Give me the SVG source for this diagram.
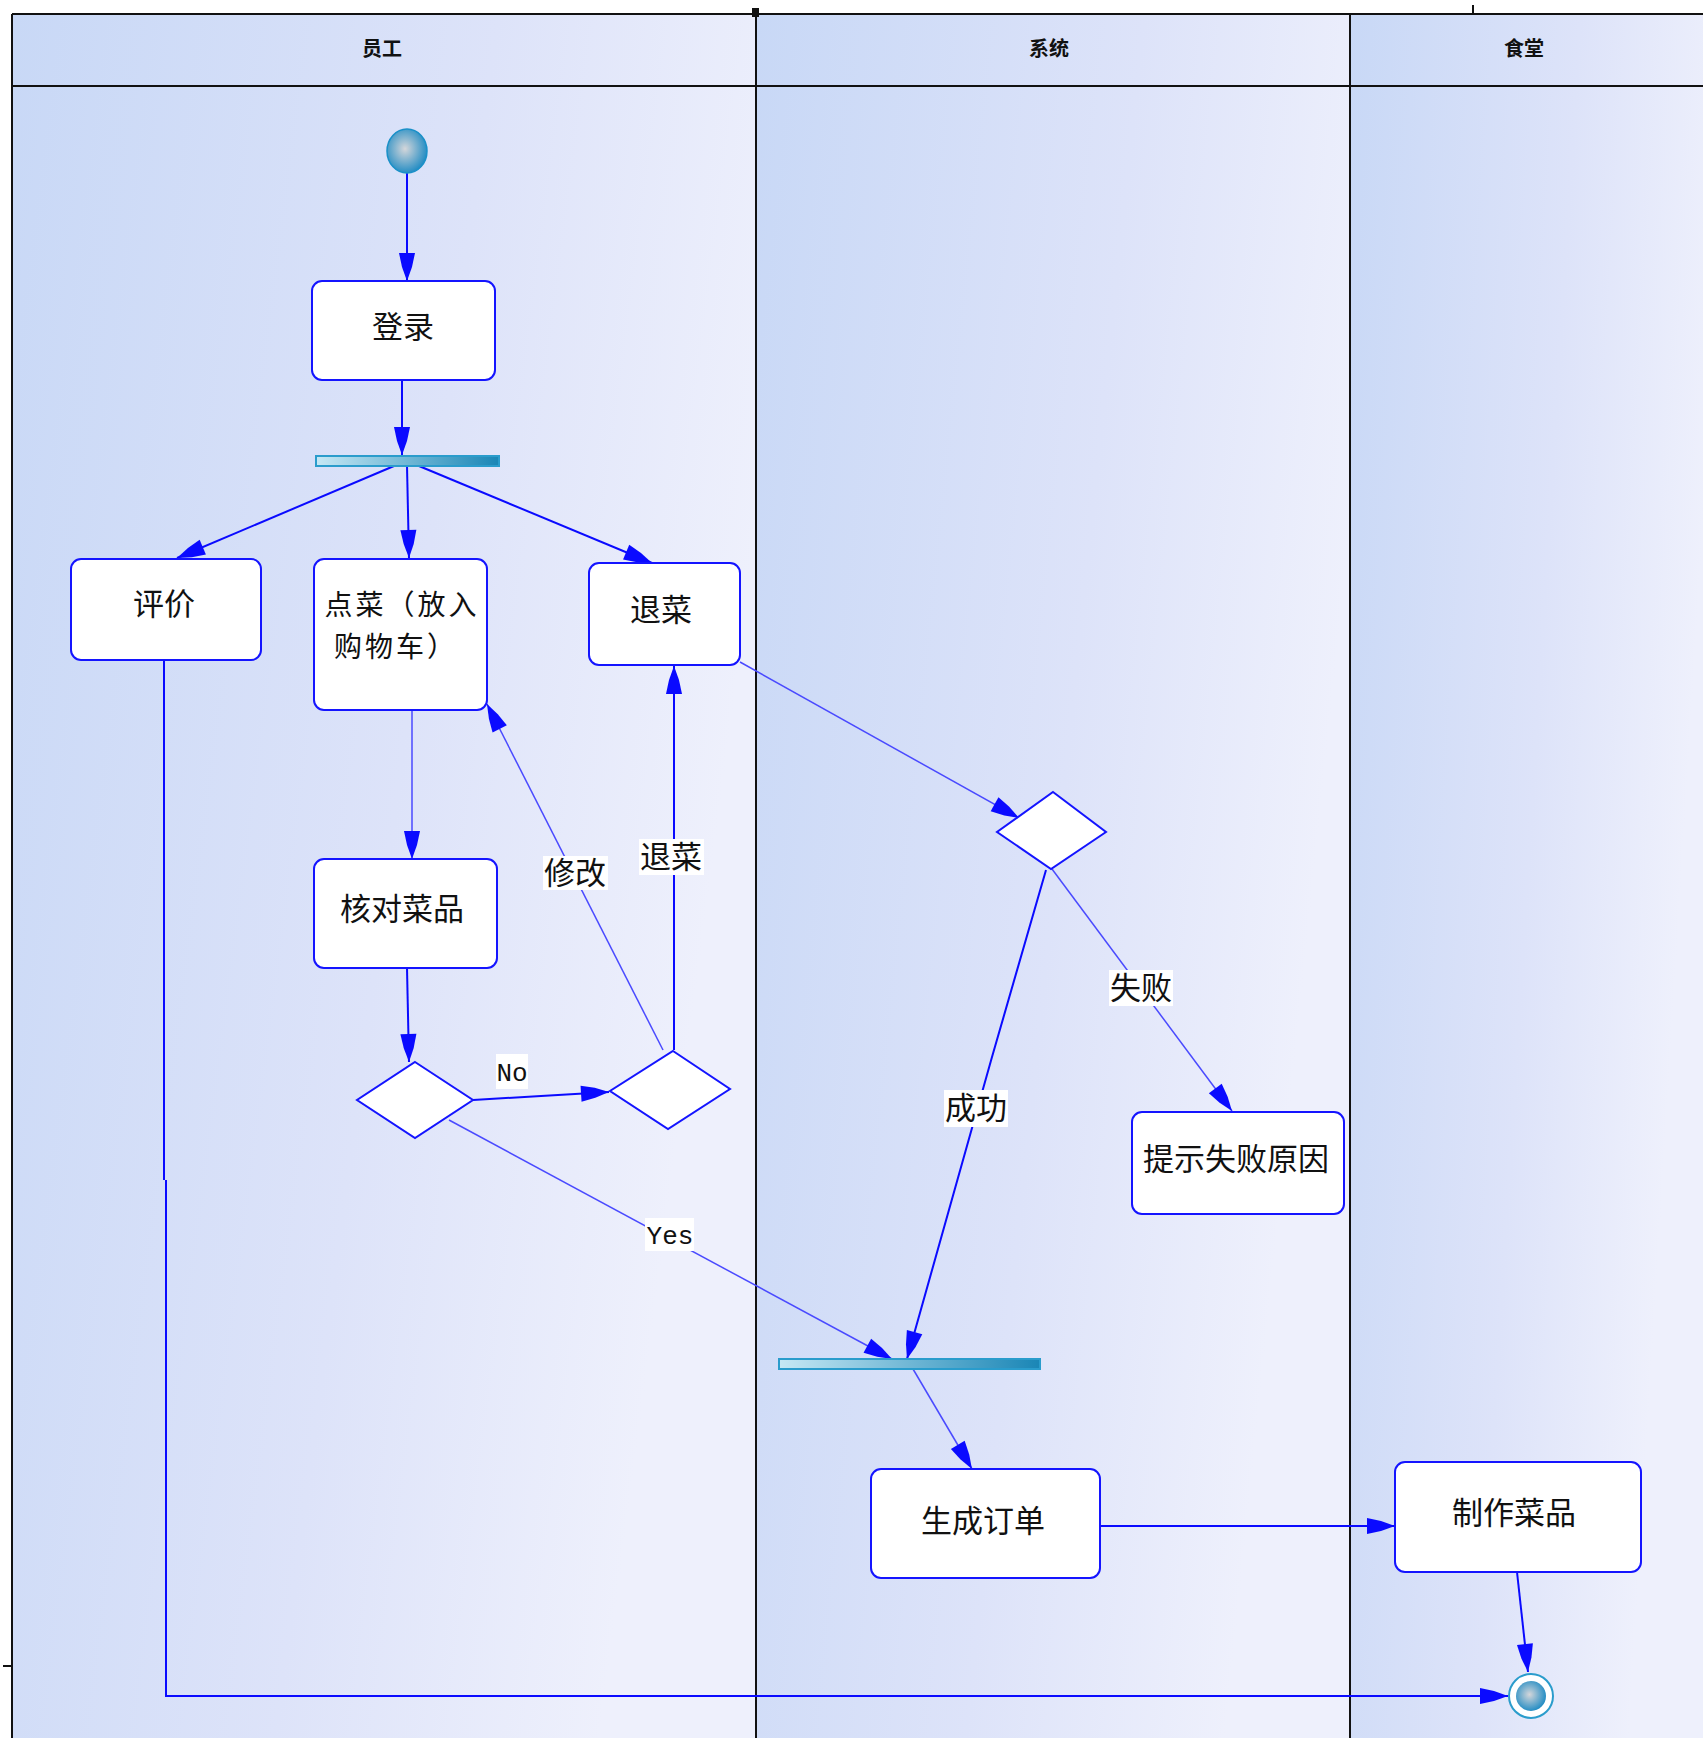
<svg xmlns="http://www.w3.org/2000/svg" width="1703" height="1738" viewBox="0 0 1703 1738">
<defs>
<linearGradient id="lane" x1="0" y1="0" x2="1" y2="0.3">
<stop offset="0" stop-color="#c8d8f6"/>
<stop offset="0.6" stop-color="#dde3f9"/>
<stop offset="1" stop-color="#eef0fc"/>
</linearGradient>
<linearGradient id="bar" x1="0" y1="0" x2="1" y2="0">
<stop offset="0" stop-color="#c6e8f4"/>
<stop offset="1" stop-color="#1a86b6"/>
</linearGradient>
<radialGradient id="ball" cx="0.45" cy="0.45" r="0.6">
<stop offset="0" stop-color="#d4d6da"/>
<stop offset="1" stop-color="#1687c2"/>
</radialGradient>
<marker id="ah" viewBox="-30 -10 32 20" refX="0" refY="0" markerWidth="32" markerHeight="20" markerUnits="userSpaceOnUse" orient="auto">
<path d="M0,0 L-14,-5 L-28,-8 L-28,8 L-14,5 Z" fill="#0a0aff"/>
</marker>
<style>
.box{fill:#fff;stroke:#1414ff;stroke-width:2}
.dia{fill:#fff;stroke:#1414ff;stroke-width:2}
.bar{fill:url(#bar);stroke:#2a9ccc;stroke-width:2}
.c{fill:none;stroke:#0a0aff;stroke-width:2;marker-end:url(#ah)}
.t{fill:none;stroke:#4a4aff;stroke-width:1.5;marker-end:url(#ah)}
.lbl{font-family:"Noto Sans CJK SC","Noto Sans",sans-serif;font-size:31px;fill:#111;text-anchor:middle}
.lbl2{font-family:"Noto Sans CJK SC","Noto Sans",sans-serif;font-size:28px;letter-spacing:3px;fill:#111;text-anchor:middle}
.hdr{font-family:"Noto Sans CJK SC","Noto Sans",sans-serif;font-size:20px;font-weight:bold;fill:#111;text-anchor:middle}
.en{font-family:"Liberation Mono",monospace;font-size:26px;fill:#111;text-anchor:middle}
.lane{fill:url(#lane)}
.ln{stroke:#111;stroke-width:2;fill:none}
</style>
</defs>
<rect width="1703" height="1738" fill="#ffffff"/>
<g id="swimlanes">
<rect class="lane" x="12" y="14" width="744" height="1724"/>
<rect class="lane" x="756" y="14" width="594" height="1724"/>
<rect class="lane" x="1350" y="14" width="353" height="1724"/>
<line class="ln" x1="12" y1="14" x2="1703" y2="14"/>
<line class="ln" x1="12" y1="86" x2="1703" y2="86"/>
<line class="ln" x1="12" y1="14" x2="12" y2="1738"/>
<line class="ln" x1="756" y1="14" x2="756" y2="1738"/>
<line class="ln" x1="1350" y1="14" x2="1350" y2="1738"/>
<rect x="752" y="8" width="7" height="9" fill="#111"/>
<line class="ln" x1="1473" y1="5" x2="1473" y2="14"/>
<line class="ln" x1="3" y1="1666" x2="12" y2="1666"/>
<text class="hdr" x="382" y="56">员工</text>
<text class="hdr" x="1049" y="56">系统</text>
<text class="hdr" x="1524" y="56">食堂</text>
</g>
<g id="connectors">
<path class="c" d="M407,173 L407,281"/>
<path class="c" d="M402,380 L402,455"/>
<path class="c" d="M394,466 L177,558"/>
<path class="c" d="M407,466 L409,558"/>
<path class="c" d="M419,466 L652,563"/>
<path class="t" d="M412,710 L412,859"/>
<path class="c" d="M407,968 L409,1062"/>
<path class="c" d="M473,1100 L541,1096 L609,1092"/>
<path class="t" d="M663,1050 L487,704"/>
<path class="c" d="M674,1050 L674,666"/>
<path class="t" d="M449,1120 L892,1359"/>
<path class="t" d="M740,662 L1019,818"/>
<path class="t" d="M1052,869 L1232,1111"/>
<path class="c" d="M1046,870 L992,1057 L907,1359"/>
<path class="t" d="M913,1369 L972,1469"/>
<path class="c" d="M1100,1526 L1395,1526"/>
<path class="c" d="M1517,1572 L1528,1672"/>
<path fill="none" stroke="#0a0aff" stroke-width="2" d="M164,660 L164,1180"/>
<path class="c" d="M166,1180 L166,1696 L1508,1696"/>
</g>
<g id="labels">
<rect x="496" y="1054" width="32" height="35" fill="#fff"/>
<text class="en" x="512" y="1081">No</text>
<rect x="645" y="1218" width="49" height="33" fill="#fff"/>
<text class="en" x="670" y="1244">Yes</text>
<rect x="543" y="856" width="65" height="34" fill="#fff"/>
<text class="lbl" x="575" y="884">修改</text>
<rect x="639" y="839" width="65" height="36" fill="#fff"/>
<text class="lbl" x="671" y="868">退菜</text>
<rect x="1109" y="970" width="64" height="36" fill="#fff"/>
<text class="lbl" x="1141" y="999">失败</text>
<rect x="944" y="1090" width="64" height="37" fill="#fff"/>
<text class="lbl" x="976" y="1119">成功</text>
</g>
<g id="start"><ellipse cx="407" cy="151" rx="20" ry="22" fill="url(#ball)" stroke="#1a90c8" stroke-width="1.5"/></g>
<g id="login"><rect class="box" x="312" y="281" width="183" height="99" rx="10"/><text class="lbl" x="403" y="338">登录</text></g>
<g id="fork1"><rect class="bar" x="316" y="456" width="183" height="10"/></g>
<g id="review"><rect class="box" x="71" y="559" width="190" height="101" rx="10"/><text class="lbl" x="164" y="615">评价</text></g>
<g id="order"><rect class="box" x="314" y="559" width="173" height="151" rx="10"/><text class="lbl2"><tspan x="402" y="615">点菜（放入</tspan><tspan x="396" y="657">购物车）</tspan></text></g>
<g id="cancel"><rect class="box" x="589" y="563" width="151" height="102" rx="10"/><text class="lbl" x="661" y="621">退菜</text></g>
<g id="check"><rect class="box" x="314" y="859" width="183" height="109" rx="10"/><text class="lbl" x="402" y="920">核对菜品</text></g>
<g id="decision1"><polygon class="dia" points="415,1062 473,1100 415,1138 357,1100"/></g>
<g id="decision2"><polygon class="dia" points="673,1051 730,1089 668,1129 610,1091"/></g>
<g id="decision3"><polygon class="dia" points="1053,792 1106,832 1051,869 997,832"/></g>
<g id="failmsg"><rect class="box" x="1132" y="1112" width="212" height="102" rx="10"/><text class="lbl" x="1236" y="1170">提示失败原因</text></g>
<g id="fork2"><rect class="bar" x="779" y="1359" width="261" height="10"/></g>
<g id="genorder"><rect class="box" x="871" y="1469" width="229" height="109" rx="10"/><text class="lbl" x="983" y="1532">生成订单</text></g>
<g id="cook"><rect class="box" x="1395" y="1462" width="246" height="110" rx="10"/><text class="lbl" x="1514" y="1524">制作菜品</text></g>
<g id="end"><circle cx="1531" cy="1696" r="22" fill="#fff" stroke="#2a9ccc" stroke-width="2"/><circle cx="1531" cy="1696" r="15" fill="url(#ball)"/></g>
</svg>
